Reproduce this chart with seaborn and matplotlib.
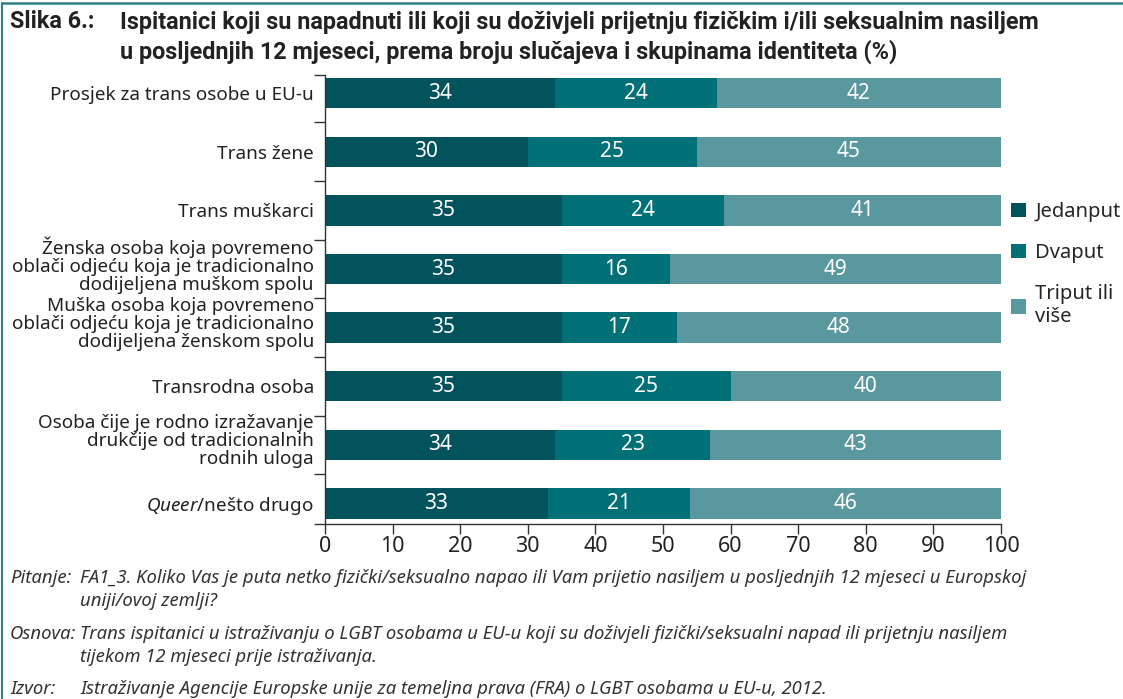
import matplotlib
matplotlib.use("Agg")
import matplotlib.pyplot as plt
import matplotlib.transforms as mtransforms
import seaborn as sns
import numpy as np
import pandas as pd
from matplotlib.lines import Line2D
from matplotlib.patches import Patch

categories = [
    "Prosjek za trans osobe u EU-u",
    "Trans žene",
    "Trans muškarci",
    "Ženska osoba koja povremeno\noblači odjeću koja je tradicionalno\ndodijeljena muškom spolu",
    "Muška osoba koja povremeno\noblači odjeću koja je tradicionalno\ndodijeljena ženskom spolu",
    "Transrodna osoba",
    "Osoba čije je rodno izražavanje\ndrukčije od tradicionalnih\nrodnih uloga",
    "$\\mathit{Queer}$/nešto drugo",
]
jedanput = [34, 30, 35, 35, 35, 35, 34, 33]
dvaput = [24, 25, 24, 16, 17, 25, 23, 21]
triput = [42, 45, 41, 49, 48, 40, 43, 46]
series_names = ["Jedanput", "Dvaput", "Triput ili\nviše"]
colors = ["#03535c", "#027077", "#5a989f"]
xticks = [0, 10, 20, 30, 40, 50, 60, 70, 80, 90, 100]

sns.set_theme(style="white")
plt.rcParams["font.family"] = ["Noto Sans", "DejaVu Sans"]
plt.rcParams["mathtext.fontset"] = "custom"
plt.rcParams["mathtext.it"] = "Noto Sans:italic"
plt.rcParams["mathtext.rm"] = "Noto Sans"

fig = plt.figure(figsize=(11.23, 6.99), dpi=100)
ax = fig.add_axes([325 / 1123, 1 - 524 / 699, (1001 - 325) / 1123, (524 - 75) / 699])

df = pd.DataFrame({"cat": categories, "a": jedanput, "b": dvaput, "c": triput})
df["ab"] = df["a"] + df["b"]
df["abc"] = df["ab"] + df["c"]

bw = 0.52
sns.barplot(data=df, y="cat", x="abc", color=colors[2], orient="h", width=bw,
            saturation=1, ax=ax, linewidth=0)
sns.barplot(data=df, y="cat", x="ab", color=colors[1], orient="h", width=bw,
            saturation=1, ax=ax, linewidth=0)
sns.barplot(data=df, y="cat", x="a", color=colors[0], orient="h", width=bw,
            saturation=1, ax=ax, linewidth=0)

for i in range(len(categories)):
    starts = [0, jedanput[i], jedanput[i] + dvaput[i]]
    vals = [jedanput[i], dvaput[i], triput[i]]
    for s, v in zip(starts, vals):
        ax.text(s + v / 2, i, f"{v}", ha="center", va="center", color="white",
                fontsize=15)

ax.set_xlim(0, 100)
ax.set_ylim(len(categories) - 1 + 0.35, -0.31)
ax.set_xlabel("")
ax.set_ylabel("")
ax.set_xticks(xticks)
ax.set_xticklabels([str(t) for t in xticks], fontsize=15.5, color="#222222")
ax.tick_params(axis="x", direction="out", length=7, width=1, color="#333333", pad=2, bottom=True)
ax.set_yticks(range(len(categories)))
ax.set_yticklabels(categories, fontsize=13.6, color="#222222", linespacing=1.0)
ax.tick_params(axis="y", which="major", length=0, pad=8)
minor = [-0.31] + [i + 0.5 for i in range(len(categories) - 1)] + [len(categories) - 1 + 0.35]
ax.set_yticks(minor, minor=True)
ax.tick_params(axis="y", which="minor", direction="out", length=8, width=1, color="#333333", left=True)
shift = mtransforms.ScaledTranslation(0, 6 / 100, fig.dpi_scale_trans)
for lbl in ax.get_yticklabels():
    if "\n" in lbl.get_text():
        lbl.set_transform(lbl.get_transform() + shift)
for sp in ["top", "right"]:
    ax.spines[sp].set_visible(False)
for sp in ["left", "bottom"]:
    ax.spines[sp].set_color("#333333")
    ax.spines[sp].set_linewidth(1)

handles = [Patch(facecolor=c, edgecolor="none") for c in colors]
fig.legend(handles, series_names, loc="upper left", bbox_to_anchor=(1011 / 1123, 1 - 202 / 699),
           frameon=False, fontsize=14.5, handlelength=0.75, handleheight=0.75,
           handletextpad=0.45, labelspacing=1.05, borderaxespad=0, borderpad=0)

title_kw = dict(fontsize=16.8, fontweight="bold", family="Roboto", color="#222222", va="center", ha="left")
fig.text(10 / 1123, 1 - 22 / 699, "Slika 6.:", **title_kw)
fig.text(120 / 1123, 1 - 22 / 699, "Ispitanici koji su napadnuti ili koji su doživjeli prijetnju fizičkim i/ili seksualnim nasiljem",
         **title_kw)
fig.text(120 / 1123, 1 - 52 / 699, "u posljednjih 12 mjeseci, prema broju slučajeva i skupinama identiteta (%)",
         **title_kw)

foot_color = "#333333"
fs = 13.3
x1 = 80 / 1123
fig.text(10 / 1123, 1 - 578 / 699, "Pitanje:", fontsize=fs, style="italic", color=foot_color, va="center")
fig.text(x1, 1 - 578 / 699, "FA1_3. Koliko Vas je puta netko fizički/seksualno napao ili Vam prijetio nasiljem u posljednjih 12 mjeseci u Europskoj",
         fontsize=fs, style="italic", color=foot_color, va="center")
fig.text(x1, 1 - 601 / 699, "uniji/ovoj zemlji?", fontsize=fs, style="italic", color=foot_color, va="center")
fig.text(10 / 1123, 1 - 634 / 699, "Osnova:", fontsize=fs, style="italic", color=foot_color, va="center")
fig.text(x1, 1 - 634 / 699, "Trans ispitanici u istraživanju o LGBT osobama u EU-u koji su doživjeli fizički/seksualni napad ili prijetnju nasiljem",
         fontsize=fs, style="italic", color=foot_color, va="center")
fig.text(x1, 1 - 657 / 699, "tijekom 12 mjeseci prije istraživanja.", fontsize=fs, style="italic", color=foot_color, va="center")
fig.text(10 / 1123, 1 - 689 / 699, "Izvor:", fontsize=fs, style="italic", color=foot_color, va="center")
fig.text(x1, 1 - 689 / 699, "Istraživanje Agencije Europske unije za temeljna prava (FRA) o LGBT osobama u EU-u, 2012.",
         fontsize=fs, style="italic", color=foot_color, va="center")

border = "#2f7f86"
fig.add_artist(Line2D([2 / 1123, 2 / 1123], [0, 1 - 3 / 699], transform=fig.transFigure, color=border, lw=1.5))
fig.add_artist(Line2D([2 / 1123, 1], [1 - 3 / 699, 1 - 3 / 699], transform=fig.transFigure, color=border, lw=1.8))

fig.savefig("out.png", dpi=100)
